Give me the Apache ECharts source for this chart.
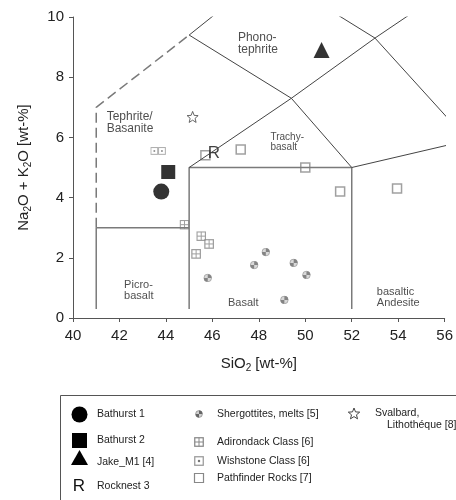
<!DOCTYPE html>
<html>
<head>
    <meta charset="utf-8">
    <title>TAS</title>
    <script src="https://cdn.jsdelivr.net/npm/echarts@6/dist/echarts.min.js"></script>
    <style>
        html, body { margin: 0; padding: 0; background: #fff; }
        #chart { width: 456px; height: 500px; }
    </style>
</head>
<body>
    <div id="chart"></div>
    <script>
        // samples, [SiO2, Na2O+K2O]
        var bathurst1 = [[43.8, 4.2]];
        var bathurst2 = [[44.1, 4.85]];
        var jakeM1 = [[50.7, 8.9]];
        var rocknest3 = [[46.07, 5.48]];
        var shergottites = [[45.8, 1.33], [47.8, 1.76], [48.3, 2.19], [49.5, 1.83], [50.05, 1.43], [49.1, 0.6]];
        var adirondack = [[44.8, 3.1], [45.52, 2.72], [45.86, 2.46], [45.3, 2.13]];
        var wishstone = [[43.5, 5.55], [43.83, 5.55]];
        var pathfinder = [[45.7, 5.41], [47.22, 5.6], [50.0, 5.0], [51.5, 4.2], [53.95, 4.3]];
        var svalbard = [[45.15, 6.68]];

        // TAS field boundaries
        var greyBounds = [
            [[41, 0.3], [41, 3]],
            [[41, 3], [45, 3]],
            [[45, 0.3], [45, 5], [52, 5], [52, 0.3]]
        ];
        var dashedBound = [[41, 3], [41, 7], [45, 9.4]];
        var darkBounds = [
            [[45, 9.4], [48.4, 11.5]],
            [[45, 9.4], [49.4, 7.3], [52, 5]],
            [[45, 5], [49.4, 7.3], [53, 9.3], [57.6, 11.7]],
            [[48.4, 11.5], [53, 9.3], [57, 5.9]],
            [[52, 5], [57, 5.9]]
        ];

        // field names, anchored top-left
        var fieldNames = ['Phono-\ntephrite', 'Tephrite/\nBasanite', 'Trachy-\nbasalt', 'Picro-\nbasalt', 'Basalt', 'basaltic\nAndesite'];
        var fieldAnchors = [[47.1, 9.5], [41.45, 6.88], [48.5, 6.18], [42.2, 1.27], [46.67, 0.67], [53.08, 1.05]];
        var fieldFont = [12, 12, 10, 11, 11, 11];

        var xTicks = [40, 42, 44, 46, 48, 50, 52, 54, 56];
        var yTicks = [0, 2, 4, 6, 8, 10];

        var FONT = 'Liberation Sans, Arial, sans-serif';

        function svgUrl(s) {
            return 'data:image/svg+xml;charset=utf-8,' + encodeURIComponent(s);
        }
        var shergSvg = svgUrl('<svg xmlns="http://www.w3.org/2000/svg" width="20" height="20" viewBox="0 0 20 20">' +
            '<circle cx="10" cy="10" r="8.5" fill="#d0d0d0" stroke="#777" stroke-width="1.5"/>' +
            '<path d="M10 10 L10 1.5 A8.5 8.5 0 0 1 18.5 10 Z" fill="#666"/>' +
            '<path d="M10 10 L10 18.5 A8.5 8.5 0 0 1 1.5 10 Z" fill="#666"/></svg>');
        var adiroSvg = svgUrl('<svg xmlns="http://www.w3.org/2000/svg" width="20" height="20" viewBox="0 0 20 20">' +
            '<rect x="1.5" y="1.5" width="17" height="17" fill="#fff" stroke="#888" stroke-width="2.5"/>' +
            '<line x1="10" y1="1.5" x2="10" y2="18.5" stroke="#888" stroke-width="2"/>' +
            '<line x1="1.5" y1="10" x2="18.5" y2="10" stroke="#888" stroke-width="2"/></svg>');
        var wishSvg = svgUrl('<svg xmlns="http://www.w3.org/2000/svg" width="20" height="20" viewBox="0 0 20 20">' +
            '<rect x="1.5" y="1.5" width="17" height="17" fill="#fff" stroke="#999" stroke-width="2.5"/>' +
            '<circle cx="10" cy="10" r="2.5" fill="#777"/></svg>');
        var starPath = 'path://M12,1 L14.9,8.3 L22.5,8.8 L16.7,13.8 L18.6,21.4 L12,17.2 L5.4,21.4 L7.3,13.8 L1.5,8.8 L9.1,8.3 Z';

        var series = [];
        greyBounds.forEach(function (seg) {
            series.push({ type: 'line', data: seg, symbol: 'none', silent: true,
                lineStyle: { color: '#7a7a7a', width: 1.5 } });
        });
        series.push({ type: 'line', data: dashedBound, symbol: 'none', silent: true,
            lineStyle: { color: '#7a7a7a', width: 1.5, type: [10, 5] } });
        darkBounds.forEach(function (seg) {
            series.push({ type: 'line', data: seg, symbol: 'none', silent: true,
                lineStyle: { color: '#444', width: 1 } });
        });

        series.push({
            type: 'scatter', silent: true, symbolSize: 0,
            data: fieldAnchors.map(function (p, i) {
                return { value: p, label: { formatter: fieldNames[i], fontSize: fieldFont[i], lineHeight: fieldFont[i] } };
            }),
            label: { show: true, position: [0, 0], color: '#222', fontFamily: FONT }
        });

        series.push({ name: 'Shergottites, melts [5]', type: 'scatter', data: shergottites, symbol: 'image://' + shergSvg, symbolSize: 9 });
        series.push({ name: 'Adirondack Class [6]', type: 'scatter', data: adirondack, symbol: 'image://' + adiroSvg, symbolSize: 10 });
        series.push({ name: 'Wishstone Class [6]', type: 'scatter', data: wishstone, symbol: 'image://' + wishSvg, symbolSize: 8 });
        series.push({ name: 'Pathfinder Rocks [7]', type: 'scatter', data: pathfinder, symbol: 'rect', symbolSize: 9,
            itemStyle: { color: '#fff', borderColor: '#888', borderWidth: 1.5 } });
        series.push({ name: 'Svalbard, Lithothéque [8]', type: 'scatter', data: svalbard, symbol: starPath, symbolSize: 11,
            itemStyle: { color: '#fff', borderColor: '#444', borderWidth: 1 } });
        series.push({ name: 'Bathurst 1', type: 'scatter', data: bathurst1, symbol: 'circle', symbolSize: 16, itemStyle: { color: '#000' } });
        series.push({ name: 'Bathurst 2', type: 'scatter', data: bathurst2, symbol: 'rect', symbolSize: 14, itemStyle: { color: '#000' } });
        series.push({ name: 'Jake_M1 [4]', type: 'scatter', data: jakeM1, symbol: 'triangle', symbolSize: 16, itemStyle: { color: '#000' } });
        series.push({ name: 'Rocknest 3', type: 'scatter', data: rocknest3, symbol: 'circle', symbolSize: 16,
            itemStyle: { color: 'rgba(0,0,0,0)' },
            label: { show: true, position: 'inside', formatter: 'R', color: '#111', fontSize: 17, fontFamily: FONT } });

        // star outline for the legend
        var starPts = [];
        for (var k = 0; k < 10; k++) {
            var a = (-90 + k * 36) * Math.PI / 180, r = k % 2 ? 2.6 : 6;
            starPts.push([354 + r * Math.cos(a), 414 + r * Math.sin(a)]);
        }

        // legend box (hand laid out, three columns)
        var lg = [];
        var txt = function (x, y, s) {
            return { type: 'text', x: x, y: y, style: { text: s, fill: '#222', font: '10.5px ' + FONT, verticalAlign: 'middle' } };
        };
        lg.push({ type: 'rect', shape: { x: 60.5, y: 395.5, width: 420, height: 130 }, style: { fill: 'none', stroke: '#555', lineWidth: 1 } });
        lg.push({ type: 'circle', shape: { cx: 79.5, cy: 414.5, r: 8 }, style: { fill: '#000' } });
        lg.push(txt(97, 414, 'Bathurst 1'));
        lg.push({ type: 'rect', shape: { x: 72, y: 433, width: 15, height: 15 }, style: { fill: '#000' } });
        lg.push(txt(97, 440, 'Bathurst 2'));
        lg.push({ type: 'polygon', shape: { points: [[79.5, 450], [88, 465], [71, 465]] }, style: { fill: '#000' } });
        lg.push(txt(97, 462, 'Jake_M1 [4]'));
        lg.push({ type: 'text', x: 79, y: 486, style: { text: 'R', fill: '#111', font: '17px ' + FONT, align: 'center', verticalAlign: 'middle' } });
        lg.push(txt(97, 486, 'Rocknest 3'));
        lg.push({ type: 'image', style: { image: shergSvg, x: 195, y: 410, width: 8, height: 8 } });
        lg.push(txt(217, 414, 'Shergottites, melts [5]'));
        lg.push({ type: 'image', style: { image: adiroSvg, x: 194, y: 437, width: 10, height: 10 } });
        lg.push(txt(217, 442, 'Adirondack Class [6]'));
        lg.push({ type: 'image', style: { image: wishSvg, x: 194, y: 456, width: 10, height: 10 } });
        lg.push(txt(217, 461, 'Wishstone Class [6]'));
        lg.push({ type: 'rect', shape: { x: 194.5, y: 473.5, width: 9, height: 9 }, style: { fill: '#fff', stroke: '#888', lineWidth: 1.2 } });
        lg.push(txt(217, 478, 'Pathfinder Rocks [7]'));
        lg.push({ type: 'polygon', shape: { points: starPts }, style: { fill: '#fff', stroke: '#444', lineWidth: 1 } });
        lg.push(txt(375, 413, 'Svalbard,'));
        lg.push(txt(387, 425, 'Lithothéque [8]'));

        var chart = echarts.init(document.getElementById('chart'), null, { renderer: 'canvas' });
        chart.setOption({
            backgroundColor: '#fff',
            animation: false,
            textStyle: { fontFamily: FONT },
            grid: { left: 73, right: 9, top: 17, bottom: 182, containLabel: false },
            xAxis: {
                type: 'value', min: xTicks[0], max: xTicks[xTicks.length - 1], interval: 2,
                name: '{n|SiO}{s|2}{n| [wt-%]}', nameLocation: 'middle', nameGap: 37,
                nameTextStyle: { rich: {
                    n: { fontSize: 15, color: '#222', fontFamily: FONT },
                    s: { fontSize: 10, color: '#222', fontFamily: FONT, padding: [8, 0, 0, 0] }
                } },
                axisLine: { lineStyle: { color: '#555', width: 1 } },
                axisTick: { length: 4, lineStyle: { color: '#555' } },
                axisLabel: { fontSize: 15, color: '#222', margin: 10 },
                splitLine: { show: false }
            },
            yAxis: {
                type: 'value', min: yTicks[0], max: yTicks[yTicks.length - 1], interval: 2,
                name: '{n|Na}{s|2}{n|O + K}{s|2}{n|O [wt-%]}', nameLocation: 'middle', nameGap: 40, nameRotate: 90,
                nameTextStyle: { rich: {
                    n: { fontSize: 15, color: '#222', fontFamily: FONT },
                    s: { fontSize: 10, color: '#222', fontFamily: FONT, padding: [8, 0, 0, 0] }
                } },
                axisLine: { show: true, lineStyle: { color: '#555', width: 1 } },
                axisTick: { show: true, length: 4, lineStyle: { color: '#555' } },
                axisLabel: { fontSize: 15, color: '#222', margin: 9 },
                splitLine: { show: false }
            },
            graphic: lg,
            series: series
        });
    </script>
</body>
</html>
